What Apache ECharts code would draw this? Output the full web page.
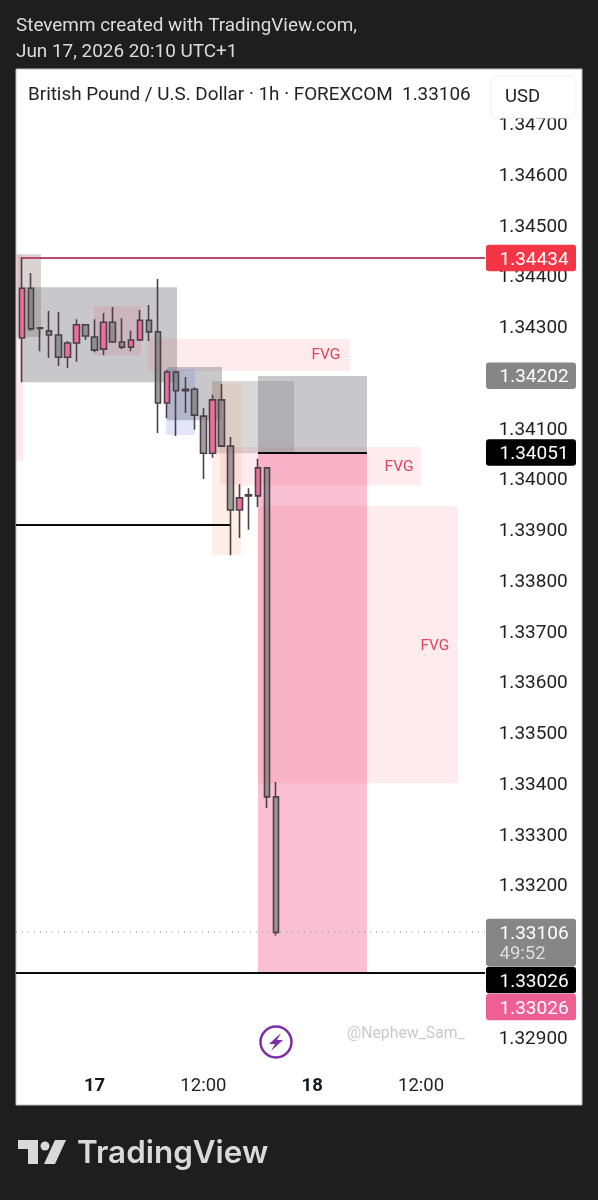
<!DOCTYPE html>
<html><head><meta charset="utf-8">
<style>html,body{margin:0;padding:0;background:#1e1e1e}#c{width:598px;height:1200px}</style>
<script src="https://cdn.jsdelivr.net/npm/echarts@6/dist/echarts.min.js"></script>
</head><body><div id="c"></div>
<script>
// hourly bars: [open, close, low, high]
const candles = [
 [1.34277,1.34375,1.34190,1.34436],[1.34375,1.34295,1.34291,1.34405],[1.34297,1.34296,1.34251,1.34297],
 [1.34291,1.34283,1.34238,1.34330],[1.34283,1.34239,1.34222,1.34328],[1.34239,1.34267,1.34218,1.34271],
 [1.34267,1.34303,1.34230,1.34314],[1.34303,1.34281,1.34273,1.34303],[1.34279,1.34253,1.34249,1.34314],
 [1.34255,1.34308,1.34243,1.34326],[1.34308,1.34269,1.34267,1.34338],[1.34269,1.34259,1.34255,1.34316],
 [1.34259,1.34273,1.34251,1.34291],[1.34273,1.34312,1.34271,1.34332],[1.34312,1.34289,1.34271,1.34342],
 [1.34289,1.34149,1.34090,1.34393],[1.34149,1.34210,1.34119,1.34214],[1.34210,1.34173,1.34084,1.34212],
 [1.34176,1.34173,1.34129,1.34200],[1.34176,1.34125,1.34096,1.34180],[1.34123,1.34050,1.33999,1.34139],
 [1.34050,1.34155,1.34041,1.34165],[1.34155,1.34064,1.34062,1.34186],[1.34064,1.33938,1.33849,1.34082],
 [1.33938,1.33962,1.33883,1.33989],[1.33968,1.33966,1.33899,1.33981],[1.33966,1.34021,1.33944,1.34039],
 [1.34021,1.33373,1.33351,1.34021],[1.33373,1.33106,1.33100,1.33402]
];
const xTickLabels = {8:'17',20:'12:00',32:'18',44:'12:00'};
const barSlots = 62;
const categories = Array.from({length:barSlots},(_,i)=>xTickLabels[i]||'');
const boldTicks = ['17','18'];
// zones: [barFrom, barTo, priceTop, priceBottom, kind]
const zones = [
 [-0.66,0.11,1.34442,1.34035,'fvg'],
 [-0.55,2.09,1.34442,1.34279,'grayP'],
 [0,17.09,1.34377,1.34190,'gray'],
 [7.94,13.12,1.34340,1.34243,'fvg2'],
 [13.89,36.16,1.34275,1.34212,'fvg'],
 [15.99,22.05,1.34220,1.34115,'gray'],
 [15.88,19.07,1.34216,1.34086,'blue'],
 [20.95,29.99,1.34192,1.34050,'grayL'],
 [20.95,24.15,1.34188,1.33849,'orange'],
 [21.83,43.99,1.34062,1.33987,'fvg'],
 [26.02,38.04,1.34202,1.34051,'gray'],
 [26.02,38.04,1.34051,1.33026,'tp'],
 [26.02,48.07,1.33946,1.33400,'fvg']
];
const zoneColors = {
 fvg:'rgba(247,82,95,0.115)', fvg2:'rgba(233,60,110,0.13)', gray:'rgba(110,110,115,0.38)', grayP:'rgba(125,105,105,0.3)',
 grayL:'rgba(110,110,115,0.27)', blue:'rgba(70,100,220,0.16)', orange:'rgba(245,130,60,0.13)', tp:'rgba(233,30,99,0.28)'
};
// lines: [barFrom, barTo, price, kind]
const levels = [
 [0,51.05,1.34434,'red'],[-0.66,22.93,1.33908,'black'],[26.02,38.04,1.34051,'black'],
 [-0.66,51.05,1.33026,'black'],[-0.66,51.05,1.33106,'dot']
];
const fvgLabels = [[33.5,1.34245],[41.57,1.34025],[45.53,1.33672]];
// price tags: [price, text, kind]
const tags = [
 [1.34434,'1.34434','#f23645'],[1.34202,'1.34202','#868686'],[1.34051,'1.34051','#000000'],
 [1.33106,'1.33106','#868686'],[1.33026,'1.33026','#000000'],[1.33026,'1.33026','#ee5f94']
];
const countdown = '49:52';
const FONT='Roboto';
const chart = echarts.init(document.getElementById('c'),null,{renderer:'canvas'});
let lastBottom=0;
chart.setOption({
 animation:false, backgroundColor:'#1e1e1e',
 grid:{left:17.47,right:18.23,top:72.5,height:1015.2,containLabel:false},
 xAxis:[
  {type:'category',data:categories,boundaryGap:true,axisLine:{show:false},axisTick:{show:false},splitLine:{show:false},
   axisLabel:{interval:0,margin:-11,hideOverlap:false,color:'#222',fontFamily:FONT,fontSize:18.5,
    formatter:v=>v?(boldTicks.includes(v)?'{b|'+v+'}':v):'',
    rich:{b:{fontWeight:'bold',fontSize:18.5,fontFamily:FONT,color:'#131722'}}}},
  {type:'value',min:-0.5,max:barSlots-0.5,show:false}
 ],
 yAxis:{type:'value',position:'right',min:1.328,max:1.348,interval:0.001,splitLine:{show:false},axisLine:{show:false},axisTick:{show:false},
  axisLabel:{inside:true,margin:12,showMinLabel:false,showMaxLabel:false,
   formatter:v=>'{v|'+v.toFixed(5)+'}',
   rich:{v:{color:'#222',fontFamily:FONT,fontSize:19,padding:[4,0,0,0]}}}},
 graphic:[
  {type:'rect',z:-1,silent:true,shape:{x:16,y:69,width:566,height:1036},style:{fill:'#fff',stroke:'#bdbdbd',lineWidth:1}},
  {type:'rect',z:100,shape:{x:17,y:70,width:564,height:47},style:{fill:'#fff'}},
  {type:'text',z:101,x:28,y:95,style:{text:'British Pound / U.S. Dollar · 1h · FOREXCOM  1.33106',fill:'#222',font:'18.85px Roboto',textVerticalAlign:'middle'}},
  {type:'rect',z:101,shape:{x:491,y:76,width:85,height:42,r:6},style:{fill:'#fff',stroke:'#efefef',lineWidth:1}},
  {type:'text',z:102,x:505,y:97,style:{text:'USD',fill:'#222',font:'18.5px Roboto',textVerticalAlign:'middle'}},
  {type:'text',z:101,x:16,y:26,style:{text:'Stevemm created with TradingView.com,',fill:'#dcdcdc',font:'18.9px Roboto',textVerticalAlign:'middle'}},
  {type:'text',z:101,x:16,y:52.5,style:{text:'Jun 17, 2026 20:10 UTC+1',fill:'#dcdcdc',font:'18.9px Roboto',textVerticalAlign:'middle'}},
  {type:'text',z:101,x:347,y:1034,style:{text:'@Nephew_Sam_',fill:'#c9c9c9',font:'15.8px Roboto',textVerticalAlign:'middle'}},
  {type:'circle',z:101,shape:{cx:276,cy:1042,r:15.5},style:{fill:'#fff',stroke:'#7b2ea6',lineWidth:2.5}},
  {type:'polygon',z:102,shape:{points:[[281,1033],[269,1044],[275,1044],[271,1051],[283,1040],[277,1040]]},style:{fill:'#7b2ea6'}},
  {type:'polygon',z:101,shape:{points:[[18,1140],[38,1140],[38,1164],[28,1164],[28,1149],[18,1149]]},style:{fill:'#d9d9d9'}},
  {type:'circle',z:101,shape:{cx:45,cy:1146,r:4.5},style:{fill:'#d9d9d9'}},
  {type:'polygon',z:101,shape:{points:[[55,1140],[66,1140],[55,1164],[44,1164]]},style:{fill:'#d9d9d9'}},
  {type:'text',z:101,x:77,y:1154,style:{text:'TradingView',fill:'#d9d9d9',font:'600 31.4px Inter',textVerticalAlign:'middle'}}
 ],
 series:[
  {type:'custom',name:'zones',xAxisIndex:1,yAxisIndex:0,z:1,silent:true,clip:false,data:zones,
   encode:{x:[0,1],y:[2,3]},
   renderItem:(p,api)=>{const z=zones[p.dataIndex];const a=api.coord([z[0],z[2]]),b=api.coord([z[1],z[3]]);
    return {type:'rect',shape:{x:a[0],y:a[1],width:b[0]-a[0],height:b[1]-a[1]},style:{fill:zoneColors[z[4]]}};}},
  {type:'candlestick',name:'GBPUSD',xAxisIndex:0,yAxisIndex:0,z:3,barWidth:6,data:candles,
   itemStyle:{color:'#ee6f9f',color0:'rgba(125,125,125,0.72)',borderColor:'#4c4046',borderColor0:'#4c4046',borderColorDoji:'#4c4046',borderWidth:1.6}},
  {type:'custom',name:'levels',xAxisIndex:1,yAxisIndex:0,z:4,silent:true,clip:false,data:levels,
   encode:{x:[0,1],y:2},
   renderItem:(p,api)=>{const l=levels[p.dataIndex];const a=api.coord([l[0],l[2]]),b=api.coord([l[1],l[2]]);
    const s={red:{stroke:'#bb4a68',lineWidth:2},black:{stroke:'#0a0a0a',lineWidth:2},dot:{stroke:'#8a8a8a',lineWidth:1,lineDash:[1,5]}}[l[3]];
    return {type:'line',shape:{x1:a[0],y1:Math.round(a[1]),x2:b[0],y2:Math.round(a[1])},style:s};}},
  {type:'custom',name:'fvgLabels',xAxisIndex:1,yAxisIndex:0,z:4,silent:true,clip:false,data:fvgLabels,
   encode:{x:0,y:1},
   renderItem:(p,api)=>{const f=fvgLabels[p.dataIndex];const a=api.coord(f);
    return {type:'text',style:{x:a[0],y:a[1]+1,text:'FVG',fill:'#e0455c',font:'15.5px Roboto',textAlign:'center',textVerticalAlign:'middle'}};}},
  {type:'custom',name:'tags',xAxisIndex:1,yAxisIndex:0,z:6,silent:true,clip:false,data:tags.map(t=>[t[0]]),
   encode:{y:0},
   renderItem:(p,api)=>{
    if(p.dataIndex===0) lastBottom=0;
    const t=tags[p.dataIndex];const y=api.coord([0,t[0]])[1];
    const isTimer=t[1]==='1.33106';
    const h=isTimer?48:27;
    const top=Math.max(isTimer?y-13.5:y-h/2,lastBottom);
    lastBottom=top+h;
    const kids=[{type:'rect',shape:{x:486,y:top,width:90,height:h-0.5,r:3},style:{fill:t[2]}},
     {type:'text',style:{x:499.5,y:top+(isTimer?15:h/2+1.5),text:t[1],fill:'#fff',font:'19px Roboto',textVerticalAlign:'middle'}}];
    if(isTimer)kids.push({type:'text',style:{x:499.5,y:top+36,text:countdown,fill:'#dddddd',font:'18.5px Roboto',textVerticalAlign:'middle'}});
    return {type:'group',children:kids};}}
 ]
});
</script></body></html>
